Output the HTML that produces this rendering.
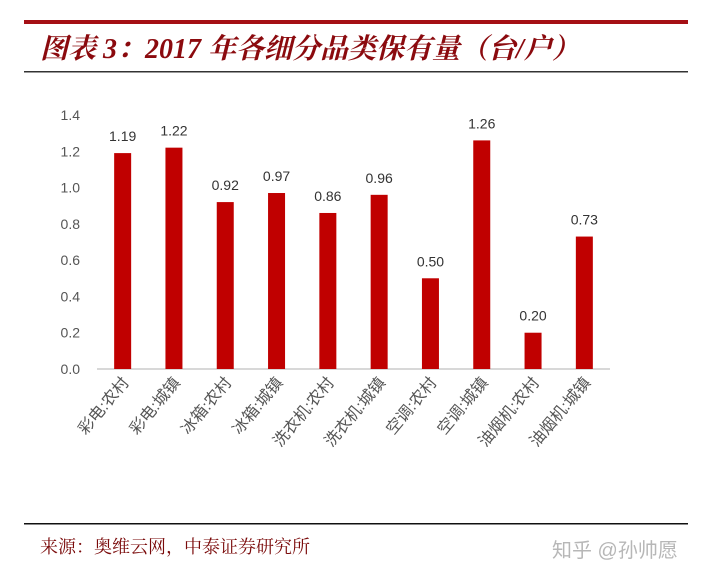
<!DOCTYPE html>
<html><head><meta charset="utf-8"><style>
body{margin:0;background:#fff;width:720px;height:576px;overflow:hidden;font-family:"Liberation Sans","Noto Sans CJK SC",sans-serif}
</style></head><body>
<svg width="720" height="576">
<rect x="24" y="20" width="664" height="4" fill="#a50f15"/>
<text x="40" y="58" font-family="'Liberation Serif','Noto Serif CJK SC',serif" font-style="italic" font-weight="bold" font-size="28" fill="#8b0a0e">图表 3：2017 年各细分品类保有量（台/户）</text>
<rect x="24" y="71" width="664" height="1.5" fill="#333"/>
<g id="chart"></g>
<rect x="24" y="523" width="664" height="1.5" fill="#111"/>
<text x="40" y="553" font-family="'Liberation Serif','Noto Serif CJK SC',serif" font-size="18" fill="#7a0a0a">来源：奥维云网，中泰证券研究所</text>
<text x="552" y="557" font-size="20" fill="#999" opacity="0.7">知乎 @孙帅愿</text>
</svg>
<script>
const categories=["彩电:农村","彩电:城镇","冰箱:农村","冰箱:城镇","洗衣机:农村","洗衣机:城镇","空调:农村","空调:城镇","油烟机:农村","油烟机:城镇"];
const values=[1.19,1.22,0.92,0.97,0.86,0.96,0.50,1.26,0.20,0.73];
const ticks=[0,0.2,0.4,0.6,0.8,1.0,1.2,1.4];
const NS="http://www.w3.org/2000/svg";
const g=document.getElementById('chart');
const y0=369,yTop=115,xL=97,xR=610;
const y=v=>y0-(v/1.4)*(y0-yTop);
const step=(xR-xL)/categories.length;
const x=i=>xL+step*(i+0.5);
function el(t,a){const e=document.createElementNS(NS,t);for(const k in a)e.setAttribute(k,a[k]);g.appendChild(e);return e;}
ticks.forEach(t=>{
 const e=el('text',{x:80,y:y(t)+5,'text-anchor':'end','font-size':14,fill:'#555'});
 
 
 e.textContent=t.toFixed(1);
});
const ax=el('line',{x1:xL,x2:xR,y1:y0,y2:y0,stroke:'#ccc','stroke-width':1.5});


values.forEach((v,i)=>{
 const b=el('rect',{x:x(i)-8.5,y:y(v),width:17,height:y0-y(v),fill:'#c00000'});
 
 
 const l=el('text',{x:x(i),y:y(v)-12,'text-anchor':'middle','font-size':14,fill:'#333'});
 
 
 l.textContent=v.toFixed(2);
 const c=el('text',{x:x(i)+7,y:y0+14,'text-anchor':'end','font-size':16,fill:'#555',transform:`rotate(-50 ${x(i)+7} ${y0+14})`});
 
 
 c.textContent=categories[i];
});
</script>
</body></html>
